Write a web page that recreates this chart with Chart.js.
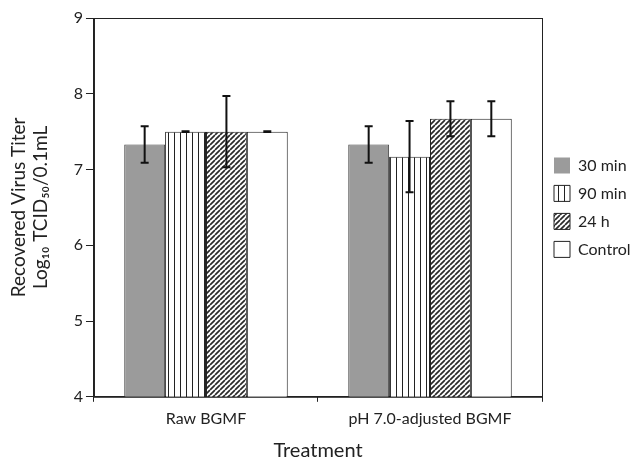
<!DOCTYPE html>
<html>
<head>
<meta charset="utf-8">
<script src="https://cdn.jsdelivr.net/npm/chart.js@4"></script>
<style>
  html, body { margin: 0; padding: 0; background: #fff; }
  #wrap { width: 632px; height: 462px; }
</style>
</head>
<body>
<div id="wrap"><canvas id="chart" width="632" height="462"></canvas></div>
<script>
const categories = ['Raw BGMF', 'pH 7.0-adjusted BGMF'];
const seriesNames = ['30 min', '90 min', '24 h', 'Control'];
const titer30 = [7.33, 7.33];
const titer90 = [7.5, 7.17];
const titer24 = [7.5, 7.67];
const titerCtl = [7.5, 7.67];
const err30 = [0.24, 0.24];
const err90 = [0.005, 0.47];
const err24 = [0.47, 0.23];
const errCtl = [0.005, 0.23];
const yTicks = [4, 5, 6, 7, 8, 9];

// fill patterns
function stripes() {
  const c = document.createElement('canvas');
  c.width = 6; c.height = 6;
  const g = c.getContext('2d');
  g.fillStyle = '#fff';
  g.fillRect(0, 0, 6, 6);
  g.fillStyle = '#222';
  g.fillRect(0, 0, 1, 6);
  return g.createPattern(c, 'repeat');
}

function hatch() {
  const c = document.createElement('canvas');
  c.width = 5; c.height = 5;
  const g = c.getContext('2d');
  g.fillStyle = '#fff';
  g.fillRect(0, 0, 5, 5);
  g.strokeStyle = '#2a2a2a';
  g.lineWidth = 1.7;
  g.beginPath();
  for (let k = -5; k <= 10; k += 5) {
    g.moveTo(k, 5);
    g.lineTo(k + 5, 0);
  }
  g.stroke();
  return g.createPattern(c, 'repeat');
}

const errBars = {
  id: 'errBars',
  afterDatasetsDraw(chart) {
    const ctx = chart.ctx;
    const y = chart.scales.y;
    ctx.save();
    ctx.strokeStyle = '#111';
    ctx.lineWidth = 2;
    chart.data.datasets.forEach((ds, i) => {
      const meta = chart.getDatasetMeta(i);
      meta.data.forEach((bar, j) => {
        const v = ds.data[j], e = ds.err[j];
        const top = y.getPixelForValue(v + e);
        const bot = y.getPixelForValue(v - e);
        ctx.beginPath();
        ctx.moveTo(bar.x, top); ctx.lineTo(bar.x, bot);
        ctx.moveTo(bar.x - 4, top); ctx.lineTo(bar.x + 4, top);
        ctx.moveTo(bar.x - 4, bot); ctx.lineTo(bar.x + 4, bot);
        ctx.stroke();
      });
    });
    ctx.restore();
  }
};

const frame = {
  id: 'frame',
  afterDraw(chart) {
    const a = chart.chartArea;
    const ctx = chart.ctx;
    ctx.save();
    ctx.strokeStyle = '#222';
    ctx.lineWidth = 1;
    ctx.strokeRect(a.left + 0.5, a.top + 0.5, a.right - a.left, a.bottom - a.top);
    ctx.restore();
  }
};

const font = "Lato, 'Open Sans', sans-serif";

new Chart(document.getElementById('chart'), {
  type: 'bar',
  data: {
    labels: categories,
    datasets: [
      { label: seriesNames[0], data: titer30, err: err30, backgroundColor: '#9b9b9b', borderColor: '#444', borderWidth: 1 },
      { label: seriesNames[1], data: titer90, err: err90, backgroundColor: stripes(), borderColor: '#222', borderWidth: 1 },
      { label: seriesNames[2], data: titer24, err: err24, backgroundColor: hatch(), borderColor: '#222', borderWidth: 1 },
      { label: seriesNames[3], data: titerCtl, err: errCtl, backgroundColor: '#fff', borderColor: '#222', borderWidth: 1 }
    ]
  },
  options: {
    responsive: false,
    animation: false,
    layout: { padding: { left: 4, top: 18, right: 0, bottom: 1 } },
    datasets: { bar: { barPercentage: 1, categoryPercentage: 0.73 } },
    plugins: {
      legend: {
        position: 'right',
        fullSize: false,
        maxWidth: 90,
        labels: {
          boxWidth: 16,
          boxHeight: 16,
          padding: 12,
          color: '#222',
          font: { family: font, size: 16 },
          generateLabels(chart) {
            const items = Chart.defaults.plugins.legend.labels.generateLabels(chart);
            items[0].lineWidth = 0;
            items.forEach(it => { it.strokeStyle = '#222'; });
            return items;
          }
        }
      },
      tooltip: { enabled: false }
    },
    scales: {
      x: {
        grid: { display: true, drawOnChartArea: false, offset: true, color: '#222', tickLength: 5 },
        border: { color: '#222' },
        ticks: { color: '#222', font: { family: font, size: 16 }, padding: 7 },
        title: { display: true, text: 'Treatment', color: '#222', font: { family: font, size: 20, lineHeight: 1 }, padding: { top: 6, bottom: 0 } }
      },
      y: {
        min: 4,
        max: 9,
        afterBuildTicks(axis) { axis.ticks = yTicks.map(v => ({ value: v })); },
        grid: { display: true, drawOnChartArea: false, color: '#222', tickLength: 8 },
        border: { color: '#222' },
        ticks: { color: '#222', font: { family: font, size: 16 }, padding: 3 },
        title: {
          display: true,
          text: ['Recovered Virus Titer', 'Log\u2081\u2080 TCID\u2085\u2080/0.1mL'],
          color: '#222',
          font: { family: font, size: 19, lineHeight: 1.15 },
          padding: { top: 4, bottom: 19 }
        }
      }
    }
  },
  plugins: [errBars, frame]
});
</script>
</body>
</html>
